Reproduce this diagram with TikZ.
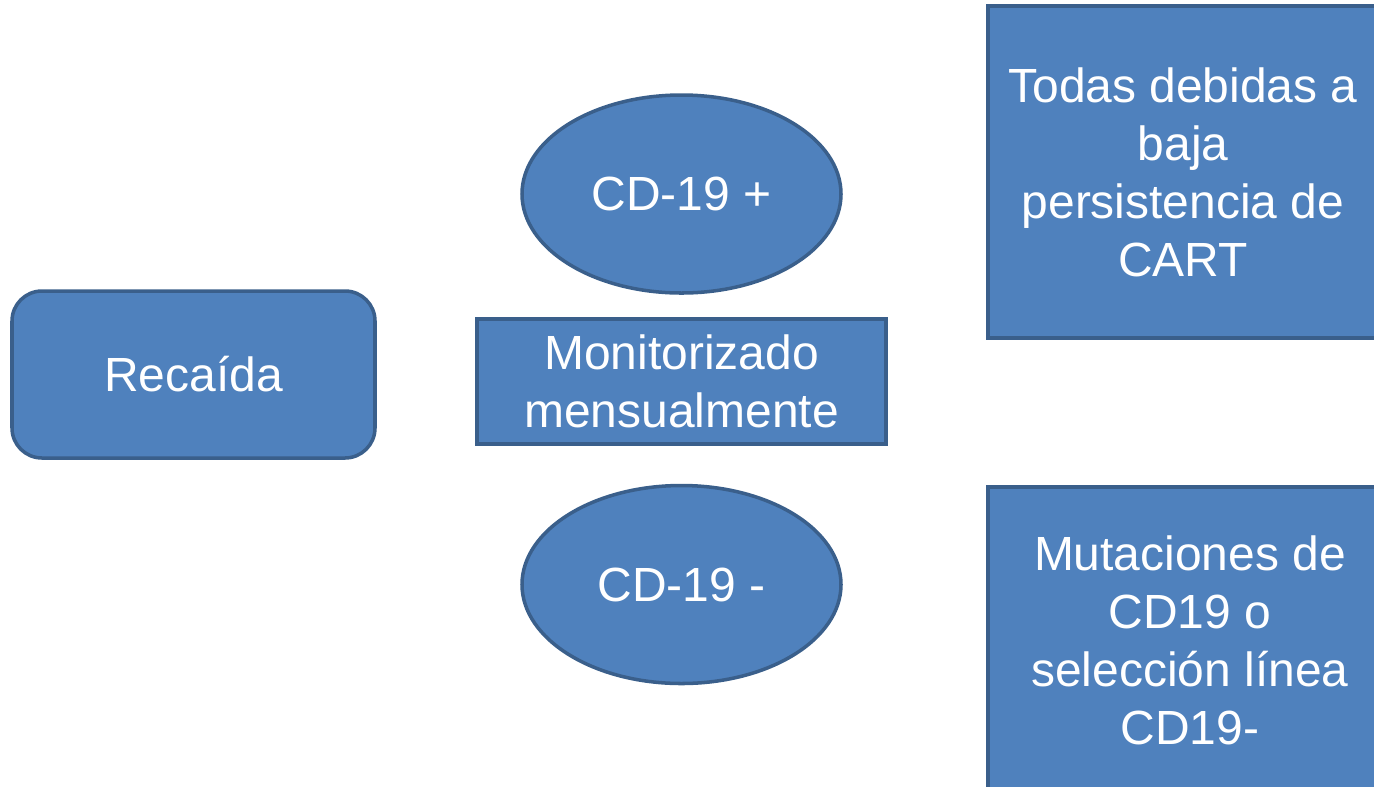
\documentclass[tikz,border=0pt]{standalone}
\usepackage{fontspec}
\setmainfont{Liberation Sans}
\usepackage{tikz}
\usetikzlibrary{shapes}

\definecolor{boxfill}{HTML}{4F81BD}
\definecolor{boxline}{HTML}{3A5F8B}

\begin{document}
\begin{tikzpicture}[
        blue/.style={draw=boxline, fill=boxfill, line width=2pt, text=white, align=center, inner sep=0pt,
            font=\fontsize{27.3}{33}\selectfont},
        oval/.style={blue, ellipse, minimum width=6.38cm, minimum height=3.96cm}
    ]
        \useasboundingbox (0,0) rectangle (27.48,-15.72);

        % left
        \node[blue, rectangle, rounded corners=0.6cm, minimum width=7.26cm, minimum height=3.34cm] at (3.87,-7.49) (recaida) {Reca\'ida};

        % middle
        \node[oval] at (13.63,-3.88) (pos) {CD-19 +};
        \node[blue, rectangle, minimum width=8.18cm, minimum height=2.5cm] at (13.63,-7.63) (monit) {Monitorizado\\mensualmente};
        \node[oval] at (13.63,-11.69) (neg) {CD-19 -};

        % right
        \node[blue, rectangle, minimum width=7.8cm, minimum height=6.64cm] at (23.66,-3.44) (cart) {Todas debidas a\\baja\\persistencia de\\CART};
        \node[blue, rectangle, minimum width=8.08cm, minimum height=6.12cm] at (23.8,-12.8) (mut) {Mutaciones de\\CD19 o\\selecci\'on l\'inea\\CD19-};
    \end{tikzpicture}
\end{document}
